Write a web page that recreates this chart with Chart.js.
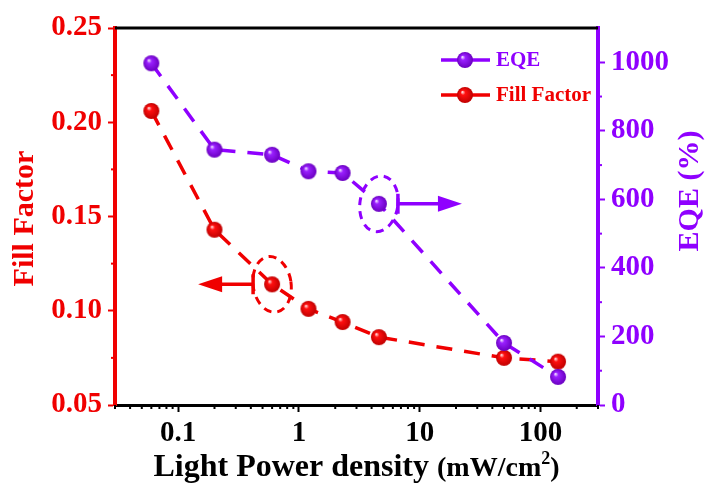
<!DOCTYPE html>
<html>
<head>
<meta charset="utf-8">
<script src="https://cdn.jsdelivr.net/npm/chart.js@4.4.1/dist/chart.umd.min.js"></script>
<style>
  html, body { margin: 0; padding: 0; background: #fff; }
  #wrap { width: 708px; height: 491px; }
</style>
</head>
<body>
<div id="wrap"><canvas id="chart" width="708" height="491"></canvas></div>
<script>
// === Data ===
const power = [0.06, 0.2, 0.6, 1.2, 2.3, 4.6, 50, 140];
const fillFactor = [0.206, 0.143, 0.114, 0.101, 0.094, 0.086, 0.075, 0.073];
const eqe = [997, 745, 730, 682, 677, 587, 181, 82];

const xTicks = [0.1, 1, 10, 100];
const ffTicks = [0.05, 0.10, 0.15, 0.20, 0.25];
const eqeTicks = [0, 200, 400, 600, 800, 1000];

const RED = "#f00000";
const PURPLE = "#8f00ff";
const FONT = "'Liberation Serif', 'Times New Roman', serif";

// === Sphere markers ===
function makeBall(color, dark, r) {
  const c = document.createElement("canvas");
  c.width = c.height = r * 2 + 2;
  const g = c.getContext("2d");
  const cx = r + 1, cy = r + 1;
  const grad = g.createRadialGradient(cx - r * 0.35, cy - r * 0.4, 0, cx, cy, r);
  grad.addColorStop(0, "#ffffff");
  grad.addColorStop(0.3, color);
  grad.addColorStop(1, dark);
  g.fillStyle = grad;
  g.beginPath();
  g.arc(cx, cy, r, 0, Math.PI * 2);
  g.fill();
  return c;
}
const redBall = makeBall("#ff1010", "#c00000", 8);
const purpleBall = makeBall("#9a20ff", "#6a00c0", 8);

// === Extra drawing: frame, minor ticks, titles, legend, callouts ===
const decorPlugin = {
  id: "decor",
  afterDraw(chart) {
    const ctx = chart.ctx;
    const a = chart.chartArea;
    const x = chart.scales.x, y = chart.scales.y, y2 = chart.scales.y2;
    ctx.save();

    // top frame line
    ctx.strokeStyle = "#000";
    ctx.lineWidth = 3;
    ctx.beginPath();
    ctx.moveTo(a.left, a.top);
    ctx.lineTo(a.right, a.top);
    ctx.stroke();

    // minor ticks on x
    ctx.lineWidth = 2;
    ctx.strokeStyle = "#000";
    for (let d = 0.01; d <= 100; d *= 10) {
      for (let m = 2; m <= 9; m++) {
        const v = d * m;
        if (v < x.min || v > x.max) continue;
        const px = x.getPixelForValue(v);
        ctx.beginPath();
        ctx.moveTo(px, a.bottom);
        ctx.lineTo(px, a.bottom + 4);
        ctx.stroke();
      }
    }
    // minor ticks on left y
    ctx.strokeStyle = RED;
    for (let v = 0.075; v < 0.25; v += 0.05) {
      const py = y.getPixelForValue(v);
      ctx.beginPath();
      ctx.moveTo(a.left, py);
      ctx.lineTo(a.left - 4, py);
      ctx.stroke();
    }
    // minor ticks on right y
    ctx.strokeStyle = PURPLE;
    for (let v = 100; v < 1100; v += 200) {
      const py = y2.getPixelForValue(v);
      ctx.beginPath();
      ctx.moveTo(a.right, py);
      ctx.lineTo(a.right + 4, py);
      ctx.stroke();
    }

    // axis titles
    ctx.font = "bold 30px " + FONT;
    ctx.textAlign = "center";
    ctx.textBaseline = "middle";
    ctx.fillStyle = RED;
    ctx.save();
    ctx.translate(25, (a.top + a.bottom) / 2 + 2);
    ctx.rotate(-Math.PI / 2);
    ctx.fillText("Fill Factor", 0, 0);
    ctx.restore();

    ctx.fillStyle = PURPLE;
    ctx.save();
    ctx.translate(690, 191);
    ctx.rotate(-Math.PI / 2);
    ctx.fillText("EQE (%)", 0, 0);
    ctx.restore();

    // x title with superscript
    ctx.fillStyle = "#000";
    ctx.textAlign = "left";
    ctx.textBaseline = "alphabetic";
    const parts = [
      ["Light Power density ", "bold 32px " + FONT, 0],
      ["(mW/cm", "bold 28px " + FONT, 0],
      ["2", "bold 18px " + FONT, -12],
      [")", "bold 28px " + FONT, 0]
    ];
    let total = 0;
    parts.forEach(p => { ctx.font = p[1]; total += ctx.measureText(p[0]).width; });
    let tx = (a.left + a.right) / 2 - total / 2;
    const base = 476;
    parts.forEach(p => {
      ctx.font = p[1];
      ctx.fillText(p[0], tx, base + p[2]);
      tx += ctx.measureText(p[0]).width;
    });

    // legend
    const legend = [
      { label: "EQE", color: PURPLE, ball: purpleBall, y: 60 },
      { label: "Fill Factor", color: RED, ball: redBall, y: 95 }
    ];
    legend.forEach(item => {
      ctx.strokeStyle = item.color;
      ctx.lineWidth = 3.5;
      ctx.beginPath();
      ctx.moveTo(441, item.y);
      ctx.lineTo(490, item.y);
      ctx.stroke();
      ctx.drawImage(item.ball, 465 - item.ball.width / 2, item.y - item.ball.height / 2);
      ctx.fillStyle = item.color;
      ctx.font = "bold 21px " + FONT;
      ctx.textBaseline = "middle";
      ctx.fillText(item.label, 496, item.y + 1);
    });

    // callouts: dashed ellipse + arrow toward the axis
    function callout(px, py, color, dir, len) {
      ctx.strokeStyle = color;
      ctx.fillStyle = color;
      ctx.lineWidth = 3;
      ctx.setLineDash([8, 6]);
      ctx.beginPath();
      ctx.ellipse(px, py, 19, 28, dir * 0.15, 0, Math.PI * 2);
      ctx.stroke();
      ctx.setLineDash([]);
      const x0 = px + dir * 19;
      const tip = px + dir * len;
      ctx.lineWidth = 3.5;
      ctx.beginPath();
      ctx.moveTo(x0, py - 10);
      ctx.lineTo(x0, py + 10);
      ctx.moveTo(x0, py);
      ctx.lineTo(tip - dir * 20, py);
      ctx.stroke();
      ctx.beginPath();
      ctx.moveTo(tip, py);
      ctx.lineTo(tip - dir * 24, py - 8);
      ctx.lineTo(tip - dir * 24, py + 8);
      ctx.closePath();
      ctx.fill();
    }
    callout(x.getPixelForValue(power[2]), y.getPixelForValue(fillFactor[2]), RED, -1, 74);
    callout(x.getPixelForValue(power[5]), y2.getPixelForValue(eqe[5]), PURPLE, 1, 83);

    ctx.restore();
  }
};

// === Chart ===
function renderChart() {
  const ctx = document.getElementById("chart");

  return new Chart(ctx, {
    type: "line",
    data: {
      datasets: [
        {
          label: "EQE",
          data: power.map((p, i) => ({ x: p, y: eqe[i] })),
          yAxisID: "y2",
          borderColor: PURPLE,
          borderWidth: 3.5,
          borderDash: [16, 12],
          pointStyle: purpleBall,
          pointRadius: 8,
          fill: false,
          tension: 0
        },
        {
          label: "Fill Factor",
          data: power.map((p, i) => ({ x: p, y: fillFactor[i] })),
          yAxisID: "y",
          borderColor: RED,
          borderWidth: 3.5,
          borderDash: [16, 12],
          pointStyle: redBall,
          pointRadius: 8,
          fill: false,
          tension: 0
        }
      ]
    },
    options: {
      responsive: false,
      animation: false,
      layout: { padding: { top: 28, left: 0, right: 0, bottom: 0 } },
      plugins: {
        legend: { display: false },
        tooltip: { enabled: false }
      },
      scales: {
        x: {
          type: "logarithmic",
          position: "bottom",
          min: 0.03,
          max: 300,
          afterBuildTicks: s => { s.ticks = xTicks.map(v => ({ value: v })); },
          afterFit: s => { s.height = 86; },
          ticks: {
            color: "#000",
            font: { family: FONT, size: 29, weight: "bold" },
            padding: 4,
            maxRotation: 0,
            autoSkip: false,
            callback: v => String(v)
          },
          grid: { drawOnChartArea: false, tickLength: 7, tickColor: "#000", tickWidth: 2 },
          border: { color: "#000", width: 3 }
        },
        y: {
          position: "left",
          min: 0.05,
          max: 0.25,
          afterBuildTicks: s => { s.ticks = ffTicks.map(v => ({ value: v })); },
          afterFit: s => { s.width = 115; },
          ticks: {
            color: RED,
            font: { family: FONT, size: 29, weight: "bold" },
            padding: 6,
            callback: v => v.toFixed(2)
          },
          grid: { drawOnChartArea: false, tickLength: 7, tickColor: RED, tickWidth: 2 },
          border: { color: RED, width: 4 }
        },
        y2: {
          position: "right",
          min: 0,
          max: 1100,
          afterBuildTicks: s => { s.ticks = eqeTicks.map(v => ({ value: v })); },
          afterFit: s => { s.width = 110; },
          ticks: {
            color: PURPLE,
            font: { family: FONT, size: 29, weight: "bold" },
            padding: 6,
            callback: v => String(v)
          },
          grid: { drawOnChartArea: false, tickLength: 7, tickColor: PURPLE, tickWidth: 2 },
          border: { color: PURPLE, width: 4 }
        }
      }
    },
    plugins: [decorPlugin]
  });
}

document.addEventListener("DOMContentLoaded", () => {
  renderChart();
});
</script>
</body>
</html>
